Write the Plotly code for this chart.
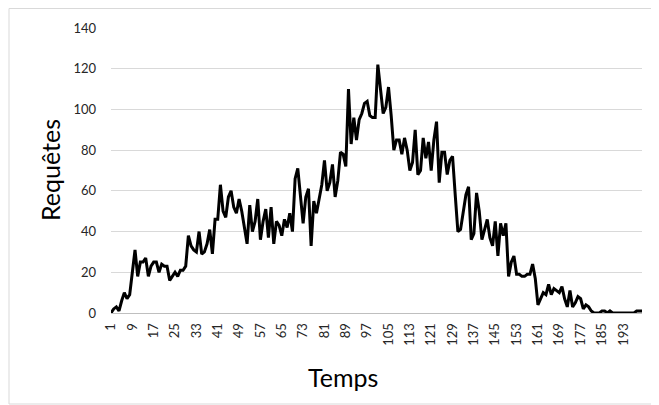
import plotly.graph_objects as go

temps = list(range(1, 201))
requetes = [
    0, 2, 3, 1, 6, 10, 7, 9, 20, 31,
    18, 25, 25, 27, 18, 23, 25, 25, 20, 24,
    23, 23, 16, 18, 20, 18, 21, 21, 23, 38,
    33, 31, 30, 40, 29, 30, 34, 41, 29, 46,
    46, 63, 50, 47, 57, 60, 52, 49, 56, 50,
    42, 34, 53, 40, 45, 56, 36, 45, 51, 37,
    52, 34, 45, 43, 38, 46, 42, 49, 40, 66,
    71, 56, 44, 57, 61, 33, 55, 49, 56, 63,
    75, 60, 64, 73, 57, 65, 79, 78, 72, 110,
    83, 96, 85, 95, 98, 103, 104, 97, 96, 96,
    122, 110, 98, 101, 111, 97, 80, 85, 85, 78,
    86, 80, 70, 74, 90, 68, 70, 86, 76, 84,
    70, 85, 94, 64, 79, 79, 68, 75, 77, 58,
    40, 41, 50, 58, 62, 36, 39, 59, 50, 36,
    41, 46, 37, 33, 45, 28, 44, 38, 44, 18,
    25, 28, 19, 19, 18, 18, 19, 19, 24, 17,
    4, 7, 10, 9, 14, 9, 12, 11, 10, 13,
    7, 3, 11, 3, 5, 8, 7, 2, 4, 3,
    1, 0, 0, 0, 1, 1, 0, 1, 0, 0,
    0, 0, 0, 0, 0, 0, 0, 1, 1, 1,
]
x_ticks = list(range(1, 201, 8))
y_ticks = [0, 20, 40, 60, 80, 100, 120, 140]
x_title = "Temps"
y_title = "Requêtes"

fig = go.Figure(
    go.Scatter(x=temps, y=requetes, mode="lines",
               line=dict(color="black", width=3), hoverinfo="skip")
)

font = "Lato, 'Open Sans', sans-serif"
W, H = 651, 397
L, R, T, B = 103, 17, 20, 92
pw, ph = W - L - R, H - T - B
fig.update_layout(
    width=W, height=H,
    margin=dict(l=L, r=R, t=T, b=B),
    paper_bgcolor="white", plot_bgcolor="white",
    showlegend=False,
    font=dict(family=font, color="#262626"),
    xaxis=dict(
        range=[1, 200], tickmode="array", tickvals=x_ticks,
        ticktext=[str(v) for v in x_ticks], tickangle=-90,
        tickfont=dict(size=13, color="#262626"),
        showgrid=False, zeroline=False,
        showline=True, linecolor="#bfbfbf", linewidth=1,
        ticks="", ticklabelstandoff=4,
    ),
    yaxis=dict(
        range=[0, 140], tickmode="array", tickvals=y_ticks,
        tickfont=dict(size=13, color="#262626"),
        showgrid=True, gridcolor="#d9d9d9", gridwidth=1,
        zeroline=False, showline=False, ticks="",
        ticklabelstandoff=14,
    ),
    annotations=[
        dict(text=x_title, xref="paper", yref="paper",
             x=(335 - L) / pw, y=(T + ph - 369) / ph,
             xanchor="center", yanchor="middle", showarrow=False,
             font=dict(size=25, color="black")),
        dict(text=y_title, xref="paper", yref="paper",
             x=(42 - L) / pw, y=(T + ph - 162) / ph, textangle=-90,
             xanchor="center", yanchor="middle", showarrow=False,
             font=dict(size=25, color="black")),
    ],
    shapes=[dict(type="rect", xref="paper", yref="paper",
                 x0=(1 - L) / pw, x1=(W - 1 - L) / pw,
                 y0=(T + ph - (H - 1)) / ph, y1=1 + (T - 0.5) / ph,
                 line=dict(color="#d9d9d9", width=1), layer="below")],
)

fig.write_html("out.html")
